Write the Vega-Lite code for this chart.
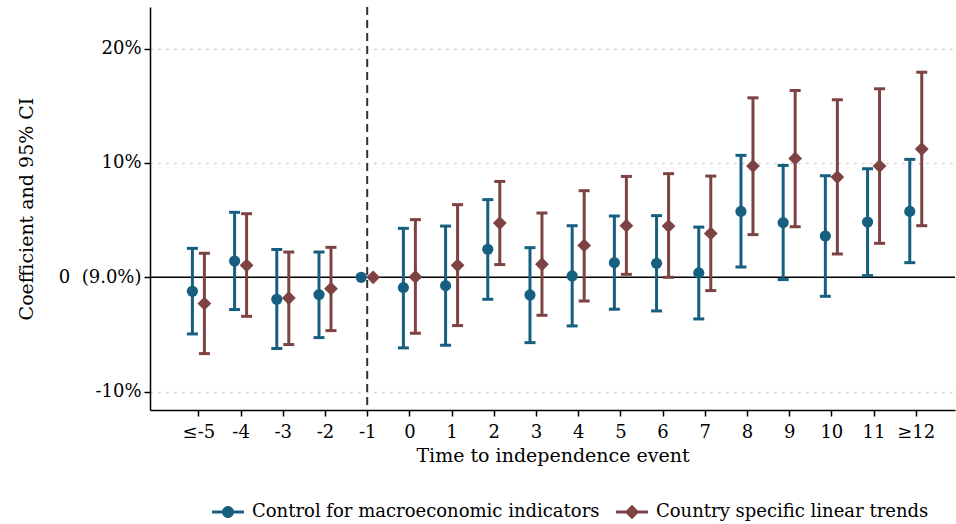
{
  "$schema": "https://vega.github.io/schema/vega-lite/v6.json",
  "width": 805,
  "height": 403,
  "autosize": {"type": "none"},
  "padding": {"left": 150, "top": 7, "right": 1, "bottom": 114},
  "background": "white",
  "config": {
    "view": {"stroke": null},
    "axis": {
      "domainColor": "black", "domainWidth": 1.5,
      "tickColor": "black", "tickWidth": 1.5, "tickSize": 6,
      "labelFont": "DejaVu Serif", "labelFontSize": 18, "labelColor": "black",
      "titleFont": "DejaVu Serif", "titleFontSize": 19, "titleFontWeight": "normal", "titleColor": "black"
    },
    "legend": {"labelFont": "DejaVu Serif", "labelFontSize": 18, "labelColor": "black", "labelLimit": 0}
  },
  "data": {"values": [
    {"s": "Control for macroeconomic indicators", "t": -5, "b": -1.22, "lo": -4.95, "hi": 2.53},
    {"s": "Control for macroeconomic indicators", "t": -4, "b": 1.42, "lo": -2.82, "hi": 5.68},
    {"s": "Control for macroeconomic indicators", "t": -3, "b": -1.92, "lo": -6.23, "hi": 2.42},
    {"s": "Control for macroeconomic indicators", "t": -2, "b": -1.51, "lo": -5.27, "hi": 2.21},
    {"s": "Control for macroeconomic indicators", "t": -1, "b": 0},
    {"s": "Control for macroeconomic indicators", "t": 0, "b": -0.9, "lo": -6.17, "hi": 4.28},
    {"s": "Control for macroeconomic indicators", "t": 1, "b": -0.73, "lo": -5.94, "hi": 4.48},
    {"s": "Control for macroeconomic indicators", "t": 2, "b": 2.45, "lo": -1.92, "hi": 6.79},
    {"s": "Control for macroeconomic indicators", "t": 3, "b": -1.54, "lo": -5.71, "hi": 2.59},
    {"s": "Control for macroeconomic indicators", "t": 4, "b": 0.12, "lo": -4.25, "hi": 4.51},
    {"s": "Control for macroeconomic indicators", "t": 5, "b": 1.28, "lo": -2.79, "hi": 5.36},
    {"s": "Control for macroeconomic indicators", "t": 6, "b": 1.22, "lo": -2.94, "hi": 5.39},
    {"s": "Control for macroeconomic indicators", "t": 7, "b": 0.38, "lo": -3.64, "hi": 4.39},
    {"s": "Control for macroeconomic indicators", "t": 8, "b": 5.76, "lo": 0.9, "hi": 10.66},
    {"s": "Control for macroeconomic indicators", "t": 9, "b": 4.78, "lo": -0.2, "hi": 9.78},
    {"s": "Control for macroeconomic indicators", "t": 10, "b": 3.61, "lo": -1.66, "hi": 8.88},
    {"s": "Control for macroeconomic indicators", "t": 11, "b": 4.83, "lo": 0.15, "hi": 9.49},
    {"s": "Control for macroeconomic indicators", "t": 12, "b": 5.76, "lo": 1.28, "hi": 10.31},
    {"s": "Country specific linear trends", "t": -5, "b": -2.3, "lo": -6.67, "hi": 2.1},
    {"s": "Country specific linear trends", "t": -4, "b": 1.05, "lo": -3.41, "hi": 5.56},
    {"s": "Country specific linear trends", "t": -3, "b": -1.81, "lo": -5.88, "hi": 2.21},
    {"s": "Country specific linear trends", "t": -2, "b": -0.99, "lo": -4.66, "hi": 2.62},
    {"s": "Country specific linear trends", "t": -1, "b": 0},
    {"s": "Country specific linear trends", "t": 0, "b": 0.03, "lo": -4.89, "hi": 5.04},
    {"s": "Country specific linear trends", "t": 1, "b": 1.05, "lo": -4.22, "hi": 6.35},
    {"s": "Country specific linear trends", "t": 2, "b": 4.74, "lo": 1.11, "hi": 8.38},
    {"s": "Country specific linear trends", "t": 3, "b": 1.14, "lo": -3.32, "hi": 5.62},
    {"s": "Country specific linear trends", "t": 4, "b": 2.79, "lo": -2.07, "hi": 7.57},
    {"s": "Country specific linear trends", "t": 5, "b": 4.51, "lo": 0.26, "hi": 8.82},
    {"s": "Country specific linear trends", "t": 6, "b": 4.48, "lo": 0.0, "hi": 9.06},
    {"s": "Country specific linear trends", "t": 7, "b": 3.84, "lo": -1.16, "hi": 8.85},
    {"s": "Country specific linear trends", "t": 8, "b": 9.72, "lo": 3.73, "hi": 15.69},
    {"s": "Country specific linear trends", "t": 9, "b": 10.39, "lo": 4.42, "hi": 16.33},
    {"s": "Country specific linear trends", "t": 10, "b": 8.76, "lo": 2.04, "hi": 15.52},
    {"s": "Country specific linear trends", "t": 11, "b": 9.72, "lo": 2.97, "hi": 16.48},
    {"s": "Country specific linear trends", "t": 12, "b": 11.21, "lo": 4.51, "hi": 17.93}
  ]},
  "layer": [
    {
      "data": {"values": [{"ref": 0}]},
      "mark": {"type": "rule", "color": "black", "strokeWidth": 1.5},
      "encoding": {"y": {"field": "ref", "type": "quantitative", "title": "Coefficient and 95% CI"}}
    },
    {
      "data": {"values": [{"ref": -1}]},
      "mark": {"type": "rule", "color": "#333333", "strokeWidth": 2, "strokeDash": [8, 5]},
      "encoding": {"x": {"field": "ref", "type": "quantitative", "title": "Time to independence event"}}
    },
    {
      "encoding": {
        "x": {
          "field": "t", "type": "quantitative", "title": "Time to independence event",
          "scale": {"domain": [-6.147, 12.93], "nice": false, "zero": false},
          "axis": {
            "values": [-5, -4, -3, -2, -1, 0, 1, 2, 3, 4, 5, 6, 7, 8, 9, 10, 11, 12],
            "labelExpr": "datum.value == -5 ? '≤-5' : (datum.value == 12 ? '≥12' : '' + datum.value)",
            "grid": false, "labelPadding": 7, "titlePadding": 5, "labelFlush": false, "labelOverlap": false
          }
        },
        "y": {
          "field": "b", "type": "quantitative", "title": "Coefficient and 95% CI",
          "scale": {"domain": [-11.6, 23.63], "nice": false, "zero": false},
          "axis": {
            "values": [-10, 0, 10, 20],
            "labelExpr": "datum.value == 0 ? '0\u00a0\u00a0(9.0%)' : datum.value + '%'",
            "grid": true, "gridColor": "#c8c8c8", "gridDash": [2, 6], "gridWidth": 1.5,
            "labelPadding": 3, "titlePadding": 22, "labelFlush": false
          }
        }
      },
      "layer": [
        {
          "transform": [{"filter": "datum.s == 'Control for macroeconomic indicators' && isValid(datum.lo)"}],
          "mark": {"type": "rule", "color": "#175f80", "strokeWidth": 3, "xOffset": -6},
          "encoding": {"y": {"field": "lo", "type": "quantitative", "title": "Coefficient and 95% CI"}, "y2": {"field": "hi"}}
        },
        {
          "transform": [{"filter": "datum.s == 'Control for macroeconomic indicators' && isValid(datum.lo)"}],
          "mark": {"type": "tick", "orient": "horizontal", "color": "#175f80", "size": 11, "thickness": 3, "xOffset": -6, "opacity": 1},
          "encoding": {"y": {"field": "lo", "type": "quantitative", "title": "Coefficient and 95% CI"}}
        },
        {
          "transform": [{"filter": "datum.s == 'Control for macroeconomic indicators' && isValid(datum.lo)"}],
          "mark": {"type": "tick", "orient": "horizontal", "color": "#175f80", "size": 11, "thickness": 3, "xOffset": -6, "opacity": 1},
          "encoding": {"y": {"field": "hi", "type": "quantitative", "title": "Coefficient and 95% CI"}}
        },
        {
          "transform": [{"filter": "datum.s == 'Country specific linear trends' && isValid(datum.lo)"}],
          "mark": {"type": "rule", "color": "#7d4242", "strokeWidth": 3, "xOffset": 6},
          "encoding": {"y": {"field": "lo", "type": "quantitative", "title": "Coefficient and 95% CI"}, "y2": {"field": "hi"}}
        },
        {
          "transform": [{"filter": "datum.s == 'Country specific linear trends' && isValid(datum.lo)"}],
          "mark": {"type": "tick", "orient": "horizontal", "color": "#7d4242", "size": 11, "thickness": 3, "xOffset": 6, "opacity": 1},
          "encoding": {"y": {"field": "lo", "type": "quantitative", "title": "Coefficient and 95% CI"}}
        },
        {
          "transform": [{"filter": "datum.s == 'Country specific linear trends' && isValid(datum.lo)"}],
          "mark": {"type": "tick", "orient": "horizontal", "color": "#7d4242", "size": 11, "thickness": 3, "xOffset": 6, "opacity": 1},
          "encoding": {"y": {"field": "hi", "type": "quantitative", "title": "Coefficient and 95% CI"}}
        },
        {
          "transform": [{"filter": "datum.s == 'Control for macroeconomic indicators'"}],
          "mark": {"type": "point", "filled": true, "shape": "circle", "size": 125, "opacity": 1, "strokeWidth": 0, "xOffset": -6},
          "encoding": {
            "color": {
              "field": "s", "type": "nominal",
              "scale": {"domain": ["Control for macroeconomic indicators", "Country specific linear trends"], "range": ["#175f80", "#7d4242"]},
              "legend": {
                "title": null, "orient": "none", "direction": "horizontal", "legendX": 62, "legendY": 489,
                "symbolSize": 1024, "labelOffset": 8, "columnPadding": 16, "symbolStrokeWidth": 0, "symbolOpacity": 1
              }
            }
          }
        },
        {
          "transform": [{"filter": "datum.s == 'Country specific linear trends'"}],
          "mark": {"type": "point", "filled": true, "shape": "diamond", "size": 190, "opacity": 1, "strokeWidth": 0, "xOffset": 6},
          "encoding": {"color": {"field": "s", "type": "nominal"}}
        },
        {
          "transform": [{"filter": "false"}],
          "mark": {"type": "point", "filled": true, "opacity": 1, "strokeWidth": 0},
          "encoding": {
            "color": {"field": "s", "type": "nominal"},
            "shape": {
              "field": "s", "type": "nominal",
              "scale": {
                "domain": ["Control for macroeconomic indicators", "Country specific linear trends"],
                "range": [
                  "M-1,-0.09L1,-0.09L1,0.09L-1,0.09Z M-0.375,0A0.375,0.375,0,1,1,0.375,0A0.375,0.375,0,1,1,-0.375,0Z",
                  "M-1,-0.09L1,-0.09L1,0.09L-1,0.09Z M0,-0.45L0.45,0L0,0.45L-0.45,0Z"
                ]
              }
            }
          }
        }
      ]
    }
  ]
}
